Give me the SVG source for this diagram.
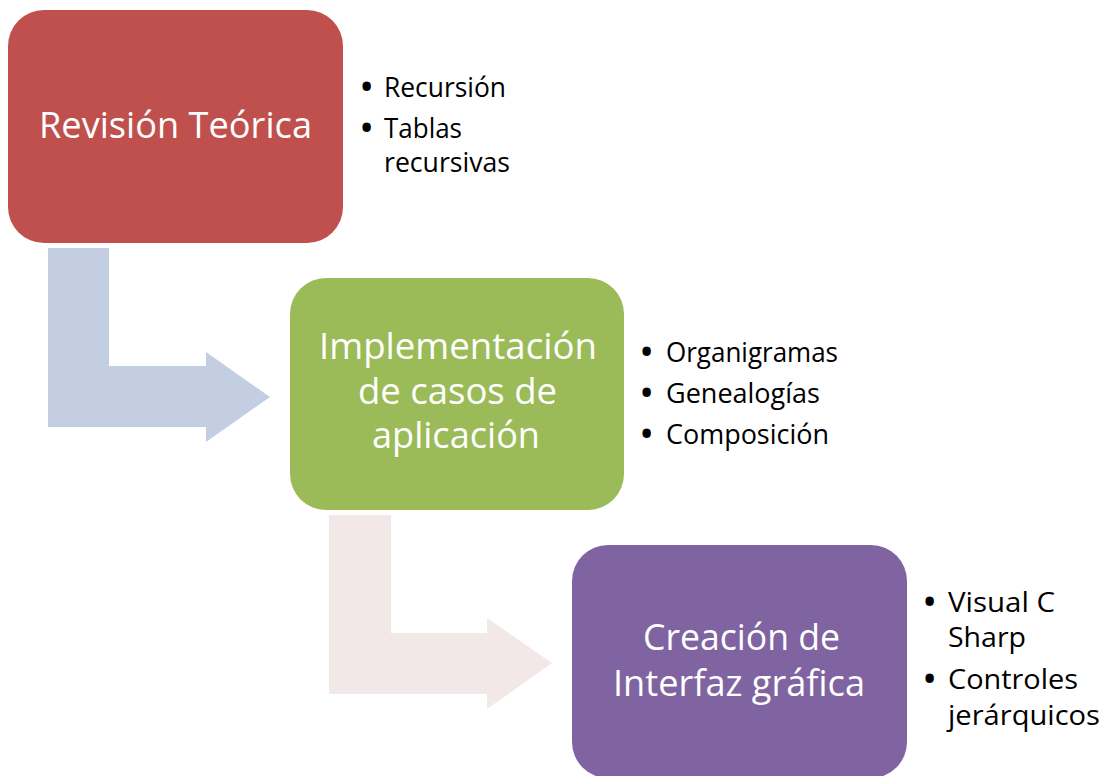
<svg xmlns="http://www.w3.org/2000/svg" width="1107" height="776" viewBox="0 0 1107 776">
  <style>
    .title { font-family: "Open Sans", "Noto Sans", "Liberation Sans", sans-serif; font-size: 36px; fill: #FFFFFF; text-anchor: middle; }
    .item { font-family: "Open Sans", "Noto Sans", "Liberation Sans", sans-serif; font-size: 28px; fill: #000000; }
    .bullet { font-weight: bold; font-size: 30px; }
  </style>
  <rect width="1107" height="776" fill="#FFFFFF"/>
  <g id="connectors">
    <polygon id="arrow1" fill="#C4CEE2" points="48,248 109,248 109,366 206,366 206,352 270,397 206,442 206,427 48,427"/>
    <polygon id="arrow2" fill="#F2E8E7" points="329,515 391,515 391,633 487,633 487,618 552,663 487,709 487,694 329,694"/>
  </g>
  <g id="node-revision">
    <rect x="8" y="10" width="335" height="233" rx="36" ry="36" fill="#C0504D"/>
    <text class="title" x="175.5" y="138" textLength="273" lengthAdjust="spacingAndGlyphs">Revisión Teórica</text>
  </g>
  <g id="list-revision">
    <text class="item" y="97"><tspan class="bullet" x="361">•</tspan><tspan x="384" textLength="122" lengthAdjust="spacingAndGlyphs">Recursión</tspan></text>
    <text class="item" y="138"><tspan class="bullet" x="361">•</tspan><tspan x="384" textLength="78" lengthAdjust="spacingAndGlyphs">Tablas</tspan></text>
    <text class="item" x="384" y="172" textLength="126" lengthAdjust="spacingAndGlyphs">recursivas</text>
  </g>
  <g id="node-implementacion">
    <rect x="290" y="278" width="334" height="232" rx="36" ry="36" fill="#9BBB59"/>
    <text class="title" x="458" y="359" textLength="278" lengthAdjust="spacingAndGlyphs">Implementación</text>
    <text class="title" x="457.5" y="404" textLength="199" lengthAdjust="spacingAndGlyphs">de casos de</text>
    <text class="title" x="456" y="448" textLength="168" lengthAdjust="spacingAndGlyphs">aplicación</text>
  </g>
  <g id="list-implementacion">
    <text class="item" y="362"><tspan class="bullet" x="641">•</tspan><tspan x="666" textLength="172" lengthAdjust="spacingAndGlyphs">Organigramas</tspan></text>
    <text class="item" y="403"><tspan class="bullet" x="641">•</tspan><tspan x="666" textLength="154" lengthAdjust="spacingAndGlyphs">Genealogías</tspan></text>
    <text class="item" y="444"><tspan class="bullet" x="641">•</tspan><tspan x="666" textLength="163" lengthAdjust="spacingAndGlyphs">Composición</tspan></text>
  </g>
  <g id="node-creacion">
    <rect x="572" y="545" width="335" height="233" rx="36" ry="36" fill="#8064A2"/>
    <text class="title" x="741.5" y="650" textLength="197" lengthAdjust="spacingAndGlyphs">Creación de</text>
    <text class="title" x="739" y="696" textLength="252" lengthAdjust="spacingAndGlyphs">Interfaz gráfica</text>
  </g>
  <g id="list-creacion">
    <text class="item" y="612"><tspan class="bullet" x="924">•</tspan><tspan x="948" textLength="107" lengthAdjust="spacingAndGlyphs">Visual C</tspan></text>
    <text class="item" x="948" y="647" textLength="78" lengthAdjust="spacingAndGlyphs">Sharp</text>
    <text class="item" y="689"><tspan class="bullet" x="924">•</tspan><tspan x="948" textLength="130" lengthAdjust="spacingAndGlyphs">Controles</tspan></text>
    <text class="item" x="948" y="725" textLength="152" lengthAdjust="spacingAndGlyphs">jerárquicos</text>
  </g>
</svg>
